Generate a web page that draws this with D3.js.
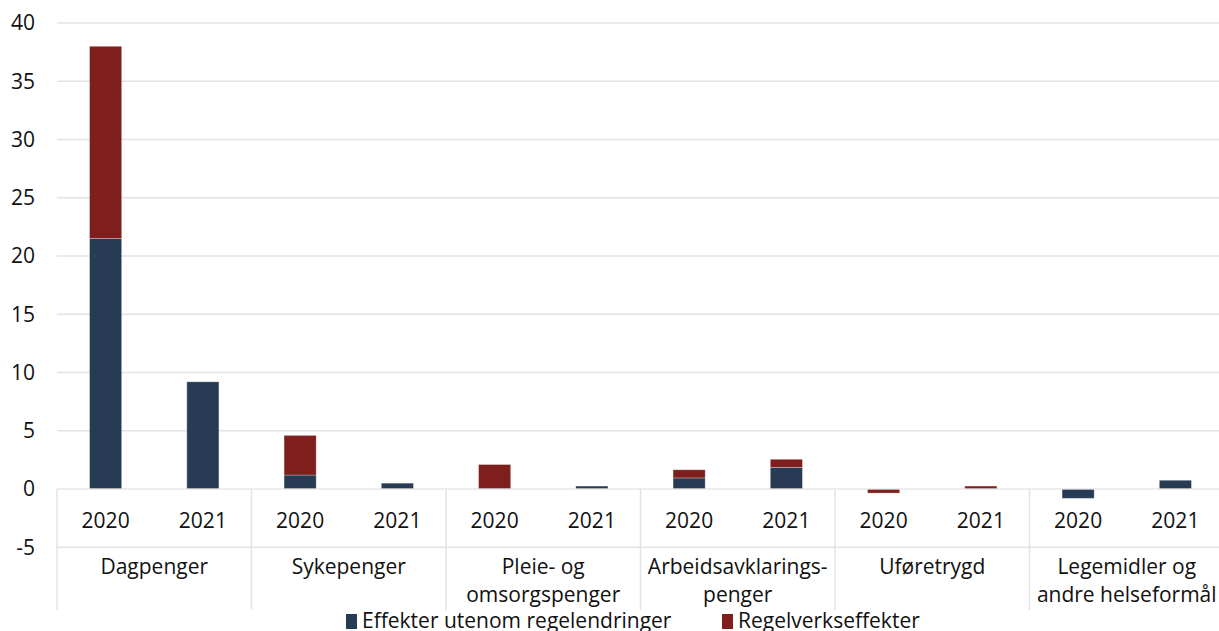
<!DOCTYPE html>
<html>
<head>
<meta charset="utf-8">
<script src="https://cdn.jsdelivr.net/npm/d3@7"></script>
<style>
  html, body { margin: 0; padding: 0; background: #fff; }
  svg { display: block; font-family: "Open Sans", sans-serif; }
</style>
</head>
<body>
<svg id="chart" width="1219" height="631"></svg>
<script>
// Benefit groups and years
const categories = [
  ["Dagpenger"],
  ["Sykepenger"],
  ["Pleie- og", "omsorgspenger"],
  ["Arbeidsavklarings-", "penger"],
  ["Uføretrygd"],
  ["Legemidler og", "andre helseformål"]
];
const years = ["2020", "2021"];

// Values (billion NOK), one entry per category × year
const effekterUtenom = [21.5, 9.2, 1.2, 0.5, 0.0, 0.25, 0.95, 1.85, 0.0, 0.0, -0.8, 0.75];
const regelverk      = [16.5, 0.0, 3.4, 0.0, 2.1, 0.0, 0.7, 0.7, -0.35, 0.25, 0.0, 0.0];

const seriesNames = ["Effekter utenom regelendringer", "Regelverkseffekter"];
const seriesColors = ["#283b55", "#7e1f1d"];
const yTicks = [-5, 0, 5, 10, 15, 20, 25, 30, 35, 40];

const svg = d3.select("#chart");
const left = 57, groupW = 194.5;
const right = left + groupW * categories.length;
const fs = 21;

const y = d3.scaleLinear().domain([-5, 40]).range([547.25, 23]);
const xGroup = d3.scaleBand().domain(d3.range(categories.length)).range([left, right]).padding(0);
const xYear = d3.scaleBand().domain(years).range([0, xGroup.bandwidth()]).paddingInner(0.67).paddingOuter(0.335);

// Grid lines
svg.append("g").selectAll("line").data(yTicks.filter(t => t > 0)).join("line")
  .attr("x1", left).attr("x2", 1219)
  .attr("y1", d => y(d)).attr("y2", d => y(d))
  .attr("stroke", "#e3e3e3").attr("stroke-width", 1.3);

// Y axis labels
svg.append("g").selectAll("text").data(yTicks).join("text")
  .attr("x", 35).attr("y", d => y(d)).attr("dy", "0.35em")
  .attr("text-anchor", "end").attr("font-size", fs).attr("fill", "#111")
  .text(d => d);

// Stacked bars (positive and negative stacked separately)
const rows = [];
categories.forEach((c, ci) => years.forEach((yr, yi) => {
  const i = ci * 2 + yi;
  rows.push({ ci, yr, vals: [effekterUtenom[i], regelverk[i]] });
}));
const barG = svg.append("g");
rows.forEach(r => {
  let pos = 0, neg = 0;
  r.vals.forEach((v, si) => {
    if (v === 0) return;
    let y0, y1;
    if (v > 0) { y0 = pos; y1 = pos + v; pos = y1; }
    else { y0 = neg; y1 = neg + v; neg = y1; }
    barG.append("rect")
      .attr("x", xGroup(r.ci) + xYear(r.yr))
      .attr("width", xYear.bandwidth())
      .attr("y", y(Math.max(y0, y1)))
      .attr("height", Math.abs(y(y0) - y(y1)))
      .attr("fill", seriesColors[si])
      .attr("stroke", "rgba(255,255,255,0.35)").attr("stroke-width", 0.8);
  });
});

// Category axis lines
const axisG = svg.append("g").attr("stroke", "#e3e3e3").attr("stroke-width", 1.5);
axisG.append("line").attr("x1", left).attr("x2", 1219).attr("y1", y(0)).attr("y2", y(0)).attr("stroke-opacity", 0.85);
axisG.append("line").attr("x1", left).attr("x2", 1219).attr("y1", y(-5)).attr("y2", y(-5));
d3.range(categories.length + 1).forEach(i => {
  const x = left + i * groupW;
  axisG.append("line").attr("x1", x).attr("x2", x).attr("y1", y(0)).attr("y2", 610);
});

// Year labels
const labG = svg.append("g").attr("font-size", fs).attr("fill", "#111").attr("text-anchor", "middle");
rows.forEach(r => {
  labG.append("text")
    .attr("x", xGroup(r.ci) + xYear(r.yr) + xYear.bandwidth() / 2)
    .attr("y", 521).attr("dy", "0.35em").text(r.yr);
});

// Category labels
categories.forEach((lines, ci) => {
  lines.forEach((ln, li) => {
    labG.append("text")
      .attr("x", xGroup(ci) + groupW / 2)
      .attr("y", 567 + li * 28).attr("dy", "0.35em").text(ln);
  });
});

// Legend
const legend = svg.append("g").attr("font-size", fs).attr("fill", "#111");
const legendX = [346, 722];
seriesNames.forEach((n, i) => {
  legend.append("rect").attr("x", legendX[i]).attr("y", 614).attr("width", 11).attr("height", 15).attr("fill", seriesColors[i]);
  legend.append("text").attr("x", legendX[i] + 16).attr("y", 620.5).attr("dy", "0.35em").text(n);
});
</script>
</body>
</html>
